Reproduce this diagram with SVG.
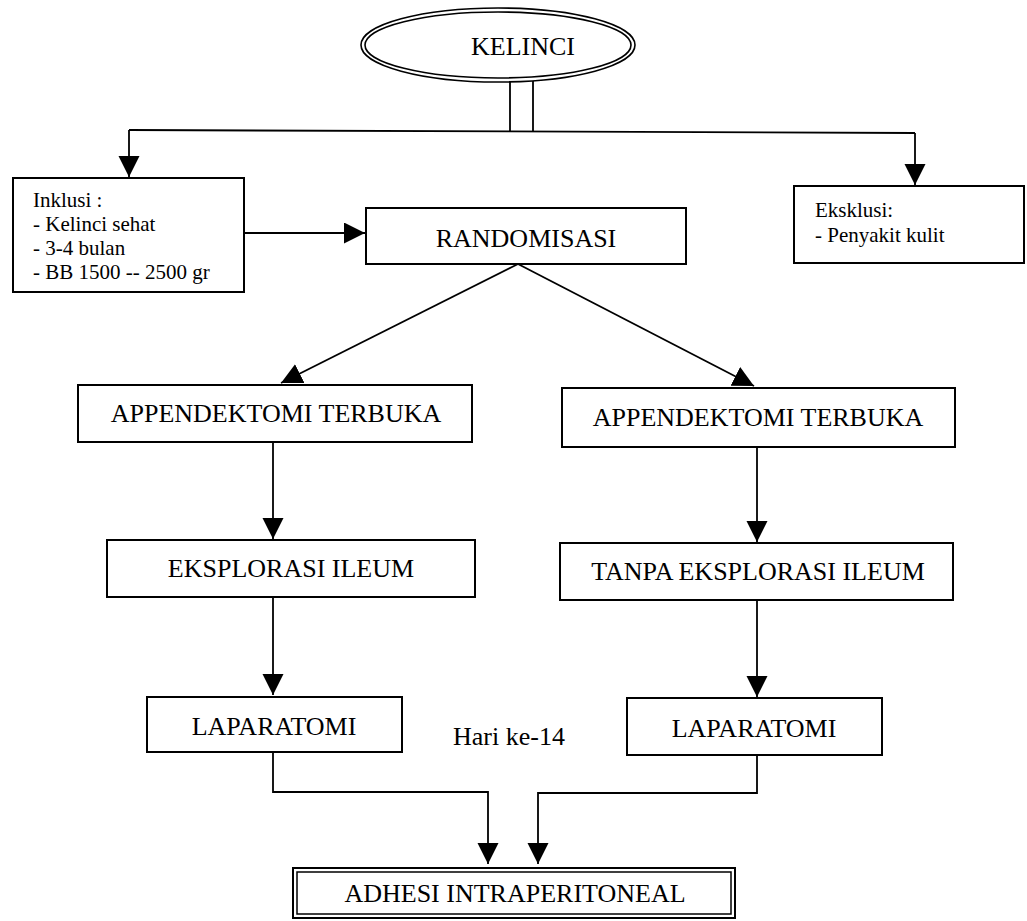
<svg xmlns="http://www.w3.org/2000/svg" width="1027" height="921" viewBox="0 0 1027 921" font-family="'Liberation Serif', 'Times New Roman', serif">
<style>
.box{fill:#fff;stroke:#000;stroke-width:2}
.ln{fill:none;stroke:#000;stroke-width:1.8}
.t{font-family:'Liberation Serif','Times New Roman',serif;font-size:26px;fill:#000}
.sm{font-family:'Liberation Serif','Times New Roman',serif;font-size:21px;fill:#000}
</style>
<defs>
<marker id="ah" markerUnits="userSpaceOnUse" markerWidth="22" markerHeight="22" refX="21" refY="10.5" orient="auto">
<path d="M0,0 L21,10.5 L0,21 z" fill="#000"/>
</marker>
</defs>
<rect width="1027" height="921" fill="#fff"/>
<g id="connectors">
<path class="ln" d="M510,81 V131 M533,81 V131"/>
<path class="ln" d="M129,130 L915,133"/>
<path class="ln" d="M129,130 V177" marker-end="url(#ah)"/>
<path class="ln" d="M915,133 V185" marker-end="url(#ah)"/>
<path class="ln" d="M244,233 H365" marker-end="url(#ah)"/>
<path class="ln" d="M518,264 L281,383" marker-end="url(#ah)"/>
<path class="ln" d="M518,264 L754,386" marker-end="url(#ah)"/>
<path class="ln" d="M273,442 V539" marker-end="url(#ah)"/>
<path class="ln" d="M757,447 V542" marker-end="url(#ah)"/>
<path class="ln" d="M273,597 V695" marker-end="url(#ah)"/>
<path class="ln" d="M757,600 V697" marker-end="url(#ah)"/>
<path class="ln" d="M273,752 V792 H488 V864" marker-end="url(#ah)"/>
<path class="ln" d="M757,755 V793 H538 V864" marker-end="url(#ah)"/>
</g>
<g id="kelinci">
<ellipse cx="498" cy="45" rx="137" ry="37" fill="#fff" stroke="#000" stroke-width="1.6"/>
<ellipse cx="498" cy="45" rx="133" ry="33" fill="none" stroke="#000" stroke-width="1.6"/>
<text class="t" x="523" y="55" text-anchor="middle">KELINCI</text>
</g>
<g id="inklusi" font-family="'Liberation Serif', 'Times New Roman', serif">
<rect class="box" x="13" y="178" width="231" height="114"/>
<text class="sm" x="33" y="207">Inklusi :</text>
<text class="sm" x="33" y="231">- Kelinci sehat</text>
<text class="sm" x="33" y="255">- 3-4 bulan</text>
<text class="sm" x="33" y="279">- BB 1500 -- 2500 gr</text>
</g>
<g id="eksklusi" font-family="'Liberation Serif', 'Times New Roman', serif">
<rect class="box" x="794" y="186" width="230" height="77"/>
<text class="sm" x="815" y="217">Eksklusi:</text>
<text class="sm" x="815" y="242">- Penyakit kulit</text>
</g>
<g id="randomisasi">
<rect class="box" x="366" y="208" width="320" height="56"/>
<text class="t" x="526" y="247" text-anchor="middle">RANDOMISASI</text>
</g>
<g id="appendektomi-kiri">
<rect class="box" x="78" y="385" width="394" height="57"/>
<text class="t" x="276" y="422" text-anchor="middle">APPENDEKTOMI TERBUKA</text>
</g>
<g id="appendektomi-kanan">
<rect class="box" x="562" y="388" width="393" height="59"/>
<text class="t" x="758" y="426" text-anchor="middle">APPENDEKTOMI TERBUKA</text>
</g>
<g id="eksplorasi">
<rect class="box" x="107" y="540" width="368" height="57"/>
<text class="t" x="291" y="577" text-anchor="middle">EKSPLORASI ILEUM</text>
</g>
<g id="tanpa-eksplorasi">
<rect class="box" x="560" y="543" width="393" height="57"/>
<text class="t" x="758" y="580" text-anchor="middle">TANPA EKSPLORASI ILEUM</text>
</g>
<g id="laparatomi-kiri">
<rect class="box" x="147" y="697" width="255" height="55"/>
<text class="t" x="274" y="735" text-anchor="middle">LAPARATOMI</text>
</g>
<g id="laparatomi-kanan">
<rect class="box" x="627" y="698" width="255" height="57"/>
<text class="t" x="754" y="737" text-anchor="middle">LAPARATOMI</text>
</g>
<g id="hari">
<text class="t" x="509" y="745" text-anchor="middle">Hari ke-14</text>
</g>
<g id="adhesi">
<rect class="box" x="293" y="868" width="442" height="50"/>
<rect x="297" y="872" width="434" height="42" fill="none" stroke="#000" stroke-width="1.5"/>
<text class="t" x="515" y="902" text-anchor="middle">ADHESI INTRAPERITONEAL</text>
</g>
</svg>
